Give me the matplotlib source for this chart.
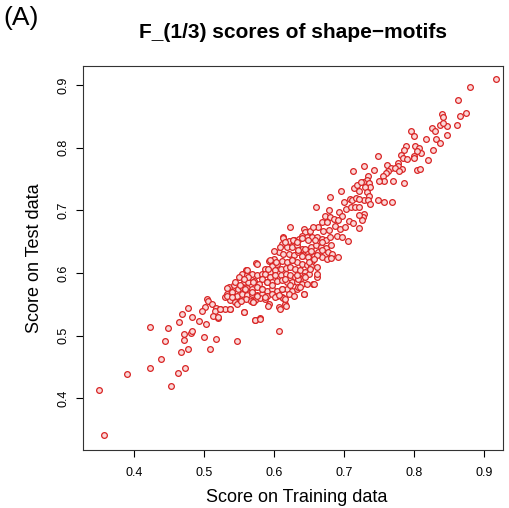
import numpy as np
import matplotlib
matplotlib.use("Agg")
import matplotlib.pyplot as plt

plt.rcParams['font.family'] = ['Liberation Sans', 'DejaVu Sans']

# scores (training, test)
train_upper = [0.917, 0.880, 0.862, 0.874, 0.865, 0.839, 0.841, 0.861, 0.846, 0.837,
               0.841, 0.825, 0.830, 0.847, 0.795, 0.800, 0.816, 0.831, 0.837, 0.788,
               0.801, 0.807, 0.826, 0.809, 0.804, 0.785, 0.781, 0.748, 0.784, 0.790,
               0.799, 0.800, 0.819, 0.776, 0.777, 0.761, 0.767, 0.773, 0.782, 0.743,
               0.763, 0.778, 0.804, 0.808, 0.728, 0.759, 0.755, 0.734, 0.733, 0.757,
               0.750, 0.770, 0.785, 0.727, 0.735, 0.736, 0.729, 0.732,
               0.713, 0.695, 0.714, 0.718, 0.724, 0.721,
               0.735, 0.728, 0.734, 0.736, 0.748, 0.757, 0.768, 0.728, 0.726, 0.725]
test_upper = [0.909, 0.897, 0.876, 0.855, 0.850, 0.853, 0.849, 0.836, 0.834, 0.836,
              0.840, 0.832, 0.827, 0.820, 0.826, 0.819, 0.814, 0.814, 0.807, 0.802,
              0.802, 0.800, 0.796, 0.791, 0.794, 0.796, 0.788, 0.787, 0.783, 0.782,
              0.787, 0.783, 0.780, 0.775, 0.771, 0.773, 0.768, 0.767, 0.766, 0.764,
              0.762, 0.763, 0.765, 0.766, 0.771, 0.759, 0.755, 0.755, 0.749, 0.747,
              0.747, 0.747, 0.744, 0.745, 0.743, 0.738, 0.737, 0.730,
              0.762, 0.731, 0.735, 0.740, 0.745, 0.731,
              0.723, 0.717, 0.717, 0.710, 0.717, 0.714, 0.714, 0.694, 0.690, 0.684]

train_lower = [0.504, 0.505, 0.511, 0.477, 0.501, 0.497, 0.516, 0.523, 0.515, 0.468,
               0.483, 0.512, 0.520, 0.464, 0.492, 0.502,
               0.423, 0.448, 0.471, 0.481, 0.483, 0.444, 0.471, 0.499, 0.517, 0.477,
               0.467, 0.508, 0.438, 0.423, 0.473, 0.463, 0.389, 0.453, 0.350, 0.357,
               0.546, 0.606]
test_lower = [0.559, 0.555, 0.551, 0.544, 0.546, 0.540, 0.544, 0.543, 0.539, 0.534,
              0.530, 0.532, 0.528, 0.522, 0.523, 0.518,
              0.513, 0.512, 0.503, 0.505, 0.508, 0.492, 0.493, 0.498, 0.494, 0.479,
              0.474, 0.478, 0.462, 0.449, 0.449, 0.441, 0.438, 0.420, 0.413, 0.342,
              0.492, 0.507]

train_mid = [0.680, 0.659, 0.678, 0.708, 0.711, 0.716, 0.721, 0.700, 0.703, 0.709,
             0.715, 0.721, 0.692, 0.697, 0.721, 0.673, 0.680, 0.685, 0.691, 0.706,
             0.712, 0.721, 0.668, 0.675, 0.663, 0.670, 0.678, 0.687, 0.694, 0.701,
             0.623, 0.642, 0.644, 0.651, 0.655, 0.640, 0.647, 0.654, 0.661, 0.668,
             0.674, 0.680, 0.690, 0.697, 0.705, 0.613, 0.621, 0.628, 0.635, 0.611,
             0.618, 0.625, 0.632, 0.640, 0.647, 0.653, 0.660, 0.667, 0.674, 0.681,
             0.677, 0.682, 0.663, 0.656, 0.668, 0.675, 0.681, 0.691, 0.606, 0.613,
             0.621, 0.628, 0.634, 0.640, 0.648, 0.654, 0.599, 0.604, 0.611, 0.618,
             0.625, 0.632, 0.640, 0.647, 0.653, 0.661, 0.574, 0.592, 0.597, 0.587,
             0.594, 0.601, 0.609, 0.616, 0.623, 0.630, 0.637, 0.644, 0.650, 0.642,
             0.560, 0.554, 0.561, 0.568, 0.575, 0.582, 0.587, 0.594, 0.601, 0.609,
             0.616, 0.623, 0.630, 0.637, 0.583, 0.590, 0.597, 0.604, 0.611, 0.618,
             0.625, 0.632, 0.640, 0.647, 0.655, 0.549, 0.556, 0.563, 0.571, 0.578,
             0.661, 0.535, 0.542, 0.548, 0.554, 0.561, 0.568, 0.575, 0.582, 0.590,
             0.597, 0.604, 0.611, 0.618, 0.625, 0.632, 0.532, 0.540, 0.547, 0.554,
             0.561, 0.568, 0.575, 0.582, 0.590, 0.597, 0.604, 0.611, 0.621, 0.628,
             0.634, 0.643, 0.530, 0.537, 0.544, 0.551, 0.559, 0.566, 0.573, 0.580,
             0.587, 0.592, 0.601, 0.613, 0.615, 0.606, 0.616, 0.569, 0.529, 0.536,
             0.556, 0.572, 0.579]
test_mid = [0.722, 0.706, 0.701, 0.718, 0.716, 0.719, 0.718, 0.713, 0.702, 0.705,
            0.706, 0.705, 0.697, 0.691, 0.693, 0.691, 0.689, 0.686, 0.684, 0.683,
            0.679, 0.672, 0.681, 0.682, 0.673, 0.667, 0.669, 0.675, 0.670, 0.673,
            0.674, 0.670, 0.665, 0.667, 0.674, 0.659, 0.658, 0.657, 0.657, 0.654,
            0.652, 0.658, 0.659, 0.658, 0.651, 0.658, 0.651, 0.652, 0.654, 0.647,
            0.641, 0.642, 0.645, 0.638, 0.635, 0.641, 0.645, 0.642, 0.640, 0.645,
            0.633, 0.630, 0.634, 0.627, 0.626, 0.622, 0.624, 0.626, 0.633, 0.630,
            0.631, 0.629, 0.633, 0.627, 0.625, 0.619, 0.622, 0.614, 0.619, 0.617,
            0.620, 0.617, 0.615, 0.613, 0.611, 0.610, 0.616, 0.619, 0.611, 0.606,
            0.602, 0.605, 0.606, 0.608, 0.609, 0.606, 0.604, 0.602, 0.598, 0.595,
            0.605, 0.598, 0.596, 0.598, 0.596, 0.599, 0.598, 0.594, 0.596, 0.597,
            0.598, 0.596, 0.593, 0.590, 0.590, 0.586, 0.585, 0.587, 0.589, 0.586,
            0.585, 0.586, 0.582, 0.583, 0.582, 0.593, 0.586, 0.585, 0.587, 0.583,
            0.594, 0.577, 0.581, 0.574, 0.578, 0.576, 0.574, 0.577, 0.574, 0.572,
            0.574, 0.572, 0.575, 0.574, 0.572, 0.574, 0.566, 0.569, 0.564, 0.567,
            0.565, 0.567, 0.565, 0.567, 0.564, 0.566, 0.564, 0.561, 0.566, 0.564,
            0.578, 0.566, 0.561, 0.557, 0.553, 0.556, 0.558, 0.555, 0.557, 0.560,
            0.558, 0.550, 0.561, 0.560, 0.551, 0.545, 0.548, 0.553, 0.542, 0.542,
            0.538, 0.525, 0.528]

# extra points from the densest part of the cloud
train_dense = [0.532, 0.539, 0.532, 0.539, 0.537, 0.546, 0.553, 0.544, 0.551, 0.558,
               0.561, 0.563, 0.556, 0.570, 0.568, 0.575, 0.570, 0.582, 0.587, 0.589,
               0.596, 0.591, 0.594, 0.603, 0.599, 0.608, 0.613, 0.615, 0.626, 0.632,
               0.639, 0.648, 0.658, 0.668, 0.634, 0.644, 0.653, 0.661, 0.668, 0.625,
               0.639, 0.649, 0.656, 0.651, 0.661, 0.634, 0.644, 0.637, 0.632, 0.615,
               0.623, 0.611, 0.606, 0.615, 0.608, 0.591, 0.575, 0.556, 0.572, 0.580,
               0.522, 0.520, 0.656, 0.643]
test_dense = [0.576, 0.570, 0.564, 0.562, 0.543, 0.551, 0.555, 0.586, 0.581, 0.575,
              0.605, 0.594, 0.590, 0.586, 0.570, 0.564, 0.554, 0.575, 0.562, 0.586,
              0.581, 0.607, 0.620, 0.618, 0.635, 0.642, 0.656, 0.650, 0.652, 0.650,
              0.656, 0.652, 0.652, 0.650, 0.636, 0.639, 0.635, 0.629, 0.636, 0.620,
              0.627, 0.618, 0.622, 0.607, 0.599, 0.591, 0.594, 0.578, 0.597, 0.591,
              0.581, 0.575, 0.565, 0.559, 0.543, 0.548, 0.615, 0.538, 0.525, 0.527,
              0.543, 0.530, 0.583, 0.566]

train = np.array(train_upper + train_lower + train_mid + train_dense)
test = np.array(test_upper + test_lower + test_mid + test_dense)

fig = plt.figure(figsize=(5.10, 5.08), dpi=100)
ax = fig.add_axes([83 / 510, 58 / 508, 420 / 510, 384 / 508])

ax.scatter(train, test, s=17, facecolor='#fad8d8', edgecolor='#d92525',
           linewidths=0.9, zorder=3)

ax.set_xlim(0.3267, 0.9267)
ax.set_ylim(0.3175, 0.9303)
ax.set_xticks([0.4, 0.5, 0.6, 0.7, 0.8, 0.9])
ax.set_yticks([0.4, 0.5, 0.6, 0.7, 0.8, 0.9])
ax.tick_params(direction='out', length=5, width=0.8, labelsize=9, pad=7)
ax.tick_params(axis='y', labelrotation=90, pad=5)
for lab in ax.get_yticklabels():
    lab.set_va('center')
for sp in ax.spines.values():
    sp.set_linewidth(0.8)
    sp.set_color('#333333')

fig.text(293 / 510, 1 - 33 / 508, 'F_(1/3) scores of shape\u2212motifs',
         ha='center', va='center', fontsize=15, fontweight='bold')
fig.text(3 / 510, 1 - 18 / 508, '(A)', ha='left', va='center', fontsize=19)
fig.text(297 / 510, 1 - 497 / 508, 'Score on Training data',
         ha='center', va='center', fontsize=13)
fig.text(35 / 510, 1 - 258 / 508, 'Score on Test data', rotation=90,
         ha='center', va='center', fontsize=13)

fig.savefig('out.png', dpi=100)
